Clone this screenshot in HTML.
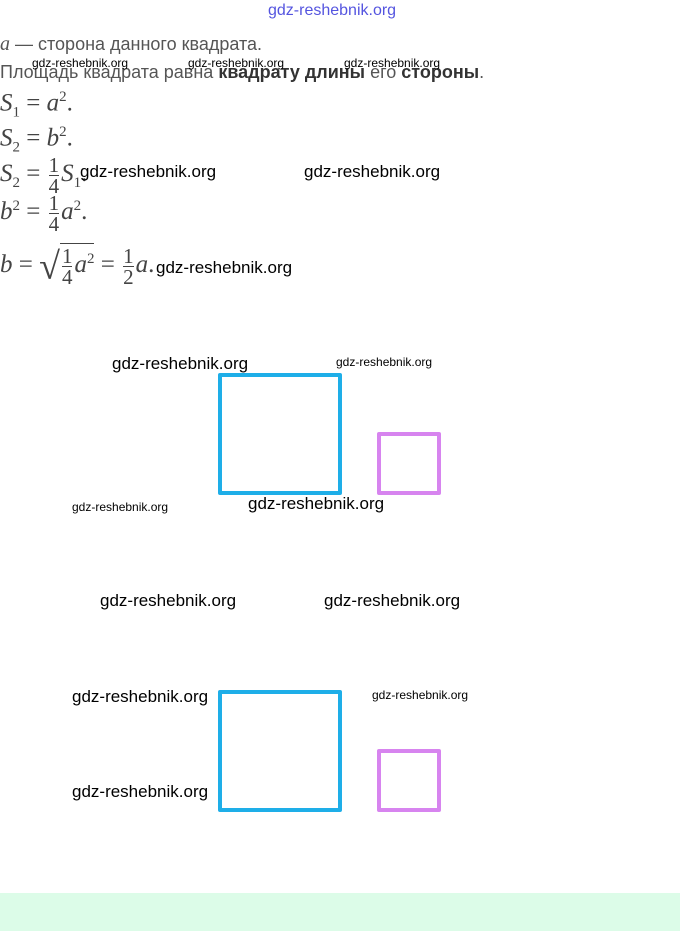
<!DOCTYPE html>
<html><head><meta charset="utf-8"><style>
body{margin:0;width:680px;height:931px;position:relative;background:#fff;overflow:hidden;font-family:"Liberation Sans",sans-serif}
.a{position:absolute;white-space:nowrap}
.t{font-size:18px;color:#555}
.m{font-family:"Liberation Serif",serif;font-size:25px;color:#444}
.m i{font-style:italic}
.w{font-size:17px;color:#000}
.ws{font-size:12px;color:#000}
.fr{display:inline-block;vertical-align:middle;text-align:center;font-size:21px;line-height:20px;margin:0 2px}
.fr span{display:block}
.fr .n{border-bottom:1px solid #444}
sub,sup{font-size:15px}
.bx{position:absolute;box-sizing:border-box;border-radius:2px}
</style></head><body>
<div class="a" style="left:268px;top:2px;font-size:16px;color:#2a2ad8;opacity:.8">gdz-reshebnik.org</div>
<div class="a t" style="left:0;top:33px"><i style="font-family:'Liberation Serif',serif;font-size:20px">a</i> — сторона данного квадрата.</div>
<div class="a t" style="left:0;top:62px">Площадь квадрата равна <b style="color:#333">квадрату длины</b> его <b style="color:#333">стороны</b>.</div>
<div class="a ws" style="left:32px;top:56px">gdz-reshebnik.org</div>
<div class="a ws" style="left:188px;top:56px">gdz-reshebnik.org</div>
<div class="a ws" style="left:344px;top:56px">gdz-reshebnik.org</div>
<div class="a m" style="left:0;top:89px"><i>S</i><sub>1</sub> = <i>a</i><sup>2</sup>.</div>
<div class="a m" style="left:0;top:124px"><i>S</i><sub>2</sub> = <i>b</i><sup>2</sup>.</div>
<div class="a m" style="left:0;top:155px"><i>S</i><sub>2</sub> = <span class="fr"><span class="n">1</span><span>4</span></span><i>S</i><sub>1</sub>.</div>
<div class="a m" style="left:0;top:193px"><i>b</i><sup>2</sup> = <span class="fr"><span class="n">1</span><span>4</span></span><i>a</i><sup>2</sup>.</div>
<div class="a m" style="left:0;top:243px"><i>b</i> = <span style="font-size:38px;vertical-align:middle">√</span><span style="border-top:1px solid #444;display:inline-block;padding-top:2px"><span class="fr"><span class="n">1</span><span>4</span></span><i>a</i><sup>2</sup></span> = <span class="fr"><span class="n">1</span><span>2</span></span><i>a</i>.</div>
<div class="a w" style="left:80px;top:162px">gdz-reshebnik.org</div>
<div class="a w" style="left:304px;top:162px">gdz-reshebnik.org</div>
<div class="a w" style="left:156px;top:258px">gdz-reshebnik.org</div>
<div class="a w" style="left:112px;top:354px">gdz-reshebnik.org</div>
<div class="a ws" style="left:336px;top:355px">gdz-reshebnik.org</div>
<div class="bx" style="left:218px;top:373px;width:124px;height:122px;border:4px solid #1eaee8"></div>
<div class="bx" style="left:377px;top:432px;width:64px;height:63px;border:4px solid #d784ef"></div>
<div class="a ws" style="left:72px;top:500px">gdz-reshebnik.org</div>
<div class="a w" style="left:248px;top:494px">gdz-reshebnik.org</div>
<div class="a w" style="left:100px;top:591px">gdz-reshebnik.org</div>
<div class="a w" style="left:324px;top:591px">gdz-reshebnik.org</div>
<div class="a w" style="left:72px;top:687px">gdz-reshebnik.org</div>
<div class="a ws" style="left:372px;top:688px">gdz-reshebnik.org</div>
<div class="bx" style="left:218px;top:690px;width:124px;height:122px;border:4px solid #1eaee8"></div>
<div class="bx" style="left:377px;top:749px;width:64px;height:63px;border:4px solid #d784ef"></div>
<div class="a w" style="left:72px;top:782px">gdz-reshebnik.org</div>
<div style="position:absolute;left:0;top:893px;width:680px;height:38px;background:#dcfce8"></div>
</body></html>
